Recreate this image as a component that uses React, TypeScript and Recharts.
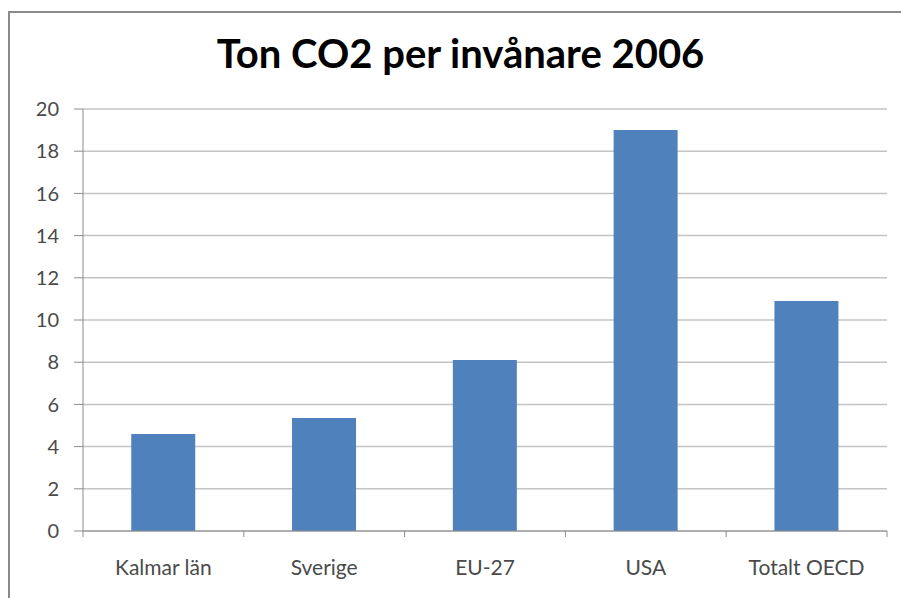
import React from 'react';
import { BarChart, Bar, XAxis, YAxis, CartesianGrid } from 'recharts';

const categories = ['Kalmar län', 'Sverige', 'EU-27', 'USA', 'Totalt OECD'];
const tonPerCapita = [4.6, 5.35, 8.1, 19.0, 10.9];
const yTicks = [0, 2, 4, 6, 8, 10, 12, 14, 16, 18, 20];

const data = categories.map((name, i) => ({ name, value: tonPerCapita[i] }));

const W = 901;
const H = 598;
const PLOT_LEFT = 83;
const PLOT_RIGHT = 887;
const BAND = (PLOT_RIGHT - PLOT_LEFT) / categories.length;
const FONT = 'Lato, "Open Sans", sans-serif';
const AXIS_GRAY = '#8c8c8c';

// Excel-style category ticks sit on the boundaries, not the centres
const CategoryTick = (props: any) => {
  const { x, y, payload, index } = props;
  const axisY = y - 8;
  const left = x - BAND / 2;
  return (
    <g>
      <line x1={left} y1={axisY} x2={left} y2={axisY + 6} stroke={AXIS_GRAY} />
      {index === categories.length - 1 && (
        <line x1={left + BAND} y1={axisY} x2={left + BAND} y2={axisY + 6} stroke={AXIS_GRAY} />
      )}
      <text x={x} y={axisY + 44} textAnchor="middle" fill="#4a4a4a" fontSize={21} fontFamily={FONT}>
        {payload.value}
      </text>
    </g>
  );
};

export default function App() {
  return (
    <div style={{ position: 'fixed', left: 0, top: 0, width: W, height: H, background: '#fff' }}>
      <div
        style={{
          position: 'absolute',
          left: 8,
          top: 11,
          width: W,
          height: H,
          borderLeft: '2px solid #8a8a8a',
          borderTop: '2px solid #8a8a8a',
        }}
      />
      <div
        style={{
          position: 'absolute',
          left: 0,
          top: 29,
          width: 921,
          textAlign: 'center',
          fontFamily: FONT,
          fontWeight: 700,
          fontSize: 40,
          color: '#000',
        }}
      >
        Ton CO2 per invånare 2006
      </div>
      <div style={{ position: 'absolute', left: 0, top: 0 }}>
        <BarChart
          width={W}
          height={H}
          data={data}
          margin={{ top: 109, right: W - PLOT_RIGHT, bottom: 27, left: 23 }}
          barCategoryGap="30%"
        >
          <CartesianGrid vertical={false} stroke="#c4c4c4" strokeWidth={1.5} />
          <XAxis
            dataKey="name"
            height={40}
            stroke={AXIS_GRAY}
            tickLine={false}
            tick={<CategoryTick />}
            interval={0}
          />
          <YAxis
            width={60}
            domain={[0, 20]}
            ticks={yTicks}
            stroke={AXIS_GRAY}
            tickSize={9}
            tickMargin={15}
            tick={{ fill: '#4a4a4a', fontSize: 20, fontFamily: FONT }}
          />
          <Bar dataKey="value" fill="#4f81bd" isAnimationActive={false} />
        </BarChart>
      </div>
    </div>
  );
}
